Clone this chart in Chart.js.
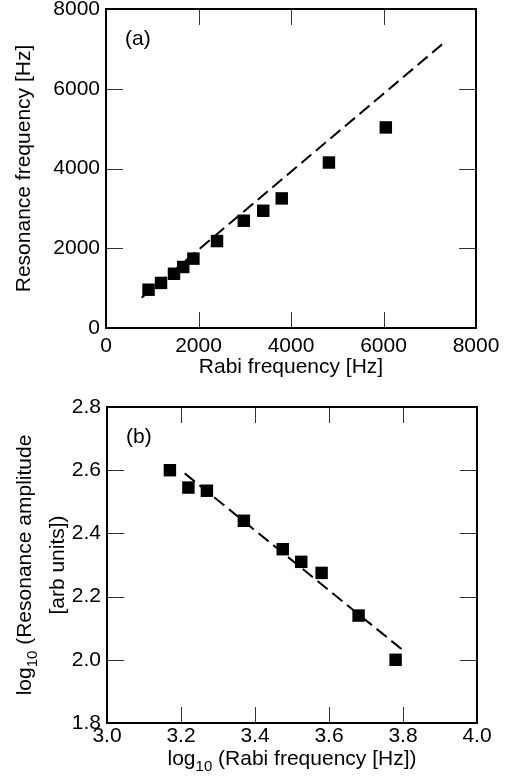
<!DOCTYPE html>
<html>
<head>
<meta charset="utf-8">
<script src="https://cdn.jsdelivr.net/npm/chart.js@4.4.0/dist/chart.umd.min.js"></script>
<style>
  html, body { margin: 0; padding: 0; background: #fff; }
  canvas { display: block; }
</style>
</head>
<body>
<canvas id="chartA" width="516" height="390"></canvas>
<canvas id="chartB" width="516" height="389"></canvas>
<script>
// panel (a): resonance frequency vs Rabi frequency
var rabiA = [920, 1190, 1470, 1670, 1890, 2400, 2980, 3400, 3800, 4820, 6050];
var resonanceA = [960, 1130, 1360, 1530, 1740, 2180, 2690, 2940, 3250, 4150, 5030];
var fitAx = [770, 7310];
var fitAy = [760, 7155];
var ticksA = [0, 2000, 4000, 6000, 8000];

// panel (b): log amplitude vs log Rabi frequency
var logRabiB = [3.17, 3.22, 3.27, 3.37, 3.475, 3.525, 3.58, 3.68, 3.78];
var logAmpB = [2.60, 2.545, 2.535, 2.44, 2.35, 2.31, 2.275, 2.14, 2.0];
var fitBx = [3.21, 3.80];
var fitBy = [2.59, 2.03];

var FONT = 'Liberation Sans, Arial, Helvetica, sans-serif';

function pairs(xs, ys) {
  var out = [];
  for (var i = 0; i < xs.length; i++) out.push({ x: xs[i], y: ys[i] });
  return out;
}

// text with "10" as a real subscript, centred on (cx, cy)
function drawRich(ctx, segs, cx, cy) {
  var total = 0;
  segs.forEach(function (s) {
    ctx.font = (s.sub ? 15 : 21) + 'px ' + FONT;
    s.w = ctx.measureText(s.t).width;
    total += s.w;
  });
  var x = cx - total / 2;
  ctx.textBaseline = 'middle';
  ctx.textAlign = 'left';
  segs.forEach(function (s) {
    ctx.font = (s.sub ? 15 : 21) + 'px ' + FONT;
    ctx.fillText(s.t, x, s.sub ? cy + 8 : cy);
    x += s.w;
  });
}

// box round the plot, inward tick marks, panel letter, rich titles
var framePlugin = {
  id: 'frame',
  afterDatasetsDraw: function (chart, args, opts) {
    var ctx = chart.ctx, a = chart.chartArea;
    var xs = chart.scales.x, ys = chart.scales.y;
    ctx.save();
    ctx.lineWidth = 1;
    ctx.strokeStyle = '#333';
    xs.ticks.forEach(function (t) {
      if (t.value <= xs.min + 1e-6 || t.value >= xs.max - 1e-6) return;
      var px = Math.round(xs.getPixelForValue(t.value)) + 0.5;
      ctx.beginPath();
      ctx.moveTo(px, a.bottom); ctx.lineTo(px, a.bottom - 16);
      ctx.moveTo(px, a.top); ctx.lineTo(px, a.top + 16);
      ctx.stroke();
    });
    ys.ticks.forEach(function (t) {
      if (t.value <= ys.min + 1e-6 || t.value >= ys.max - 1e-6) return;
      var py = Math.round(ys.getPixelForValue(t.value)) + 0.5;
      ctx.beginPath();
      ctx.moveTo(a.left, py); ctx.lineTo(a.left + 17, py);
      ctx.moveTo(a.right, py); ctx.lineTo(a.right - 17, py);
      ctx.stroke();
    });
    ctx.lineWidth = 2;
    ctx.strokeStyle = '#000';
    ctx.strokeRect(a.left, a.top, a.right - a.left, a.bottom - a.top);
    ctx.fillStyle = '#000';
    ctx.font = '21px ' + FONT;
    ctx.textBaseline = 'middle';
    ctx.fillText(opts.label, a.left + 19, a.top + 30);

    var midX = (a.left + a.right) / 2, midY = (a.top + a.bottom) / 2;
    if (opts.xRich) drawRich(ctx, opts.xRich, midX, opts.xRichY);
    if (opts.yRich) {
      opts.yRich.forEach(function (line, i) {
        ctx.save();
        ctx.translate(opts.yRichX[i], midY);
        ctx.rotate(-Math.PI / 2);
        drawRich(ctx, line, 0, 0);
        ctx.restore();
      });
    }
    ctx.restore();
  }
};

function makeChart(id, cfg) {
  var font = { family: FONT, size: 21 };
  return new Chart(document.getElementById(id), {
    type: 'scatter',
    data: {
      datasets: [
        {
          data: cfg.points,
          pointStyle: 'rect',
          pointRadius: 8.8,
          pointBackgroundColor: '#000',
          pointBorderWidth: 0,
          showLine: false
        },
        {
          data: cfg.fit,
          showLine: true,
          borderColor: '#000',
          borderWidth: 2,
          borderDash: [13, 6],
          pointRadius: 0
        }
      ]
    },
    options: {
      responsive: false,
      animation: false,
      events: [],
      layout: { padding: cfg.padding },
      plugins: {
        legend: { display: false },
        tooltip: { enabled: false },
        frame: { label: cfg.label, xRich: cfg.xRich, xRichY: cfg.xRichY, yRich: cfg.yRich, yRichX: cfg.yRichX }
      },
      scales: {
        x: {
          type: 'linear',
          min: cfg.xMin, max: cfg.xMax,
          grid: { display: false, drawTicks: false },
          border: { display: false },
          ticks: {
            stepSize: cfg.xStep, color: '#000', font: font, padding: cfg.xTickPad,
            maxRotation: 0, autoSkip: false, callback: cfg.fmt
          },
          title: {
            display: !!cfg.xTitle, text: cfg.xTitle || '', color: '#000', font: font,
            padding: { top: 0, bottom: cfg.xTitlePad }
          },
          afterFit: function (s) { s.height = cfg.xHeight; s.paddingLeft = 0; s.paddingRight = 0; }
        },
        y: {
          type: 'linear',
          min: cfg.yMin, max: cfg.yMax,
          grid: { display: false, drawTicks: false },
          border: { display: false },
          ticks: {
            stepSize: cfg.yStep, color: '#000', font: font, padding: 6,
            autoSkip: false, callback: cfg.fmt
          },
          title: {
            display: !!cfg.yTitle, text: cfg.yTitle || '', color: '#000', font: font,
            padding: { top: cfg.yTitlePad, bottom: 0 }
          },
          afterFit: function (s) { s.width = cfg.yWidth; s.paddingTop = 0; s.paddingBottom = 0; }
        }
      }
    },
    plugins: [framePlugin]
  });
}

makeChart('chartA', {
  points: pairs(rabiA, resonanceA),
  fit: pairs(fitAx, fitAy),
  label: '(a)',
  padding: { left: 0, right: 40, top: 9, bottom: 0 },
  xMin: ticksA[0], xMax: ticksA[ticksA.length - 1], xStep: 2000,
  yMin: ticksA[0], yMax: ticksA[ticksA.length - 1], yStep: 2000,
  fmt: function (v) { return String(v); },
  xTitle: 'Rabi frequency [Hz]',
  yTitle: 'Resonance frequency [Hz]',
  xTickPad: 6, xTitlePad: 10, xHeight: 62,
  yTitlePad: 12, yWidth: 106
});

makeChart('chartB', {
  points: pairs(logRabiB, logAmpB),
  fit: pairs(fitBx, fitBy),
  label: '(b)',
  padding: { left: 0, right: 39, top: 17, bottom: 0 },
  xMin: 3.0, xMax: 4.0, xStep: 0.2,
  yMin: 1.8, yMax: 2.8, yStep: 0.2,
  fmt: function (v) { return Number(v).toFixed(1); },
  xRich: [{ t: 'log' }, { t: '10', sub: true }, { t: ' (Rabi frequency [Hz])' }],
  xRichY: 369,
  yRich: [
    [{ t: 'log' }, { t: '10', sub: true }, { t: ' (Resonance amplitude' }],
    [{ t: '[arb units])' }]
  ],
  yRichX: [25, 58],
  xTickPad: 1, xHeight: 56, yWidth: 107
});
</script>
</body>
</html>
